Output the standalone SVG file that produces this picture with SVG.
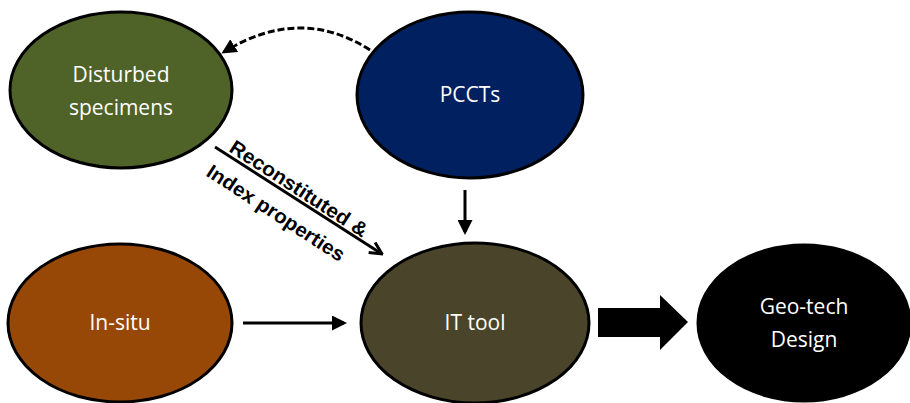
<svg xmlns="http://www.w3.org/2000/svg" width="910" height="403" viewBox="0 0 910 403">
<style>
.node ellipse{stroke:#000;stroke-width:3}
.lbl{font-family:"Open Sans","Liberation Sans",sans-serif;font-size:21px;fill:#fff;text-anchor:middle}
.con{stroke:#000;stroke-width:3;fill:none}
.ann{font-family:"Liberation Sans",Arial,sans-serif;font-weight:bold;font-size:20px;fill:#000}
</style>
<defs>
<marker id="ah" viewBox="0 0 10 10" refX="8" refY="5" markerWidth="5" markerHeight="5" orient="auto" markerUnits="strokeWidth">
<path d="M0,0 L10,5 L0,10 Z" fill="#000"/>
</marker>
<marker id="ao" viewBox="0 0 10 10" refX="9" refY="5" markerWidth="5" markerHeight="5" orient="auto" markerUnits="strokeWidth">
<path d="M1,1 L9,5 L1,9" fill="none" stroke="#000" stroke-width="2"/>
</marker>
</defs>
<rect width="910" height="403" fill="#fff"/>
<g id="disturbed" class="node">
<ellipse cx="121" cy="90" rx="111" ry="78" fill="#4f6228"/>
<text class="lbl" x="121" y="82">Disturbed</text>
<text class="lbl" x="121" y="115">specimens</text>
</g>
<g id="pccts" class="node">
<ellipse cx="470" cy="95" rx="113" ry="83" fill="#002060"/>
<text class="lbl" x="470" y="102">PCCTs</text>
</g>
<g id="insitu" class="node">
<ellipse cx="120" cy="323" rx="112" ry="79" fill="#974806"/>
<text class="lbl" x="120" y="330">In-situ</text>
</g>
<g id="ittool" class="node">
<ellipse cx="475" cy="323" rx="114" ry="80" fill="#4a452a"/>
<text class="lbl" x="475" y="330">IT tool</text>
</g>
<g id="geotech" class="node">
<ellipse cx="804" cy="323" rx="106" ry="78" fill="#000"/>
<text class="lbl" x="804" y="314">Geo-tech</text>
<text class="lbl" x="804" y="347">Design</text>
</g>
<g id="connectors">
<path class="con" d="M370,50 Q300,5 224,52" stroke-dasharray="7,3" marker-end="url(#ah)"/>
<line class="con" x1="215" y1="147" x2="382" y2="254" marker-end="url(#ao)"/>
<line class="con" x1="465" y1="190" x2="465" y2="232" marker-end="url(#ah)"/>
<line class="con" x1="243" y1="323" x2="344" y2="323" marker-end="url(#ah)"/>
<path d="M598,308 L660,308 L660,295 L688,322 L660,350 L660,337 L598,337 Z" fill="#000"/>
<g transform="translate(215,147) rotate(33)">
<text class="ann" x="13" y="-4" textLength="160" lengthAdjust="spacingAndGlyphs">Reconstituted &amp;</text>
<text class="ann" x="7" y="29" textLength="160" lengthAdjust="spacingAndGlyphs">Index properties</text>
</g>
</g>
</svg>
